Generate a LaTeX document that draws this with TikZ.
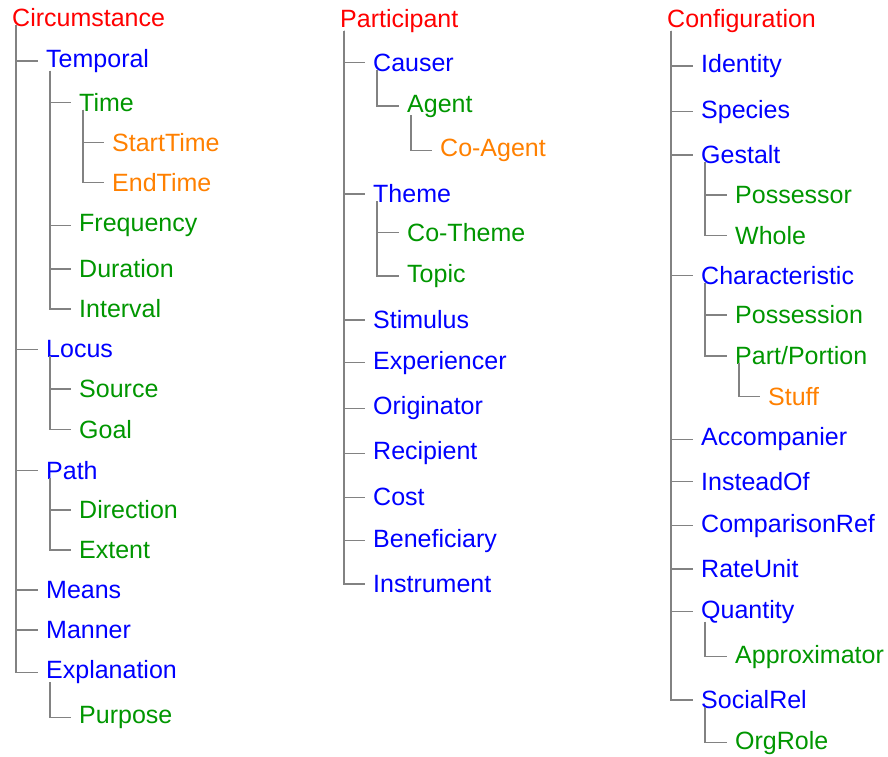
\documentclass[tikz,border=0pt]{standalone}
\usepackage{fontspec}
\setmainfont{Liberation Sans}
\usetikzlibrary{calc}

\definecolor{rootred}{RGB}{255,0,0}
\definecolor{roleblue}{RGB}{0,0,255}
\definecolor{subgreen}{RGB}{0,150,0}
\definecolor{leaforange}{RGB}{255,128,0}
\definecolor{treegray}{RGB}{130,130,130}

% connect a parent to its children: vertical line under the parent, ticks to each child
\newcommand{\treeedges}[2]{%
  \foreach \c in {#2}
    \draw[edge] ($(#1.south west)+(5,-3)$) |- ($(\c.west)+(-7,0)$);}

\begin{document}
\begin{tikzpicture}[x=1pt, y=-1pt,
    every node/.style={anchor=west, inner sep=1pt, font=\fontsize{25}{30}\selectfont},
    root/.style={text=rootred},
    role/.style={text=roleblue},
    sub/.style={text=subgreen},
    leaf/.style={text=leaforange},
    edge/.style={draw=treegray, line width=1.1pt}]
  \useasboundingbox (0,0) rectangle (888,756);

  % first column
  \node[root] (circumstance) at (11,18) {Circumstance};
  \node[role] (temporal) at (45,61) {Temporal};
  \node[sub] (time) at (78,102.3) {Time};
  \node[leaf] (starttime) at (111,142.7) {StartTime};
  \node[leaf] (endtime) at (111,182.7) {EndTime};
  \node[sub] (frequency) at (78,225.7) {Frequency};
  \node[sub] (duration) at (78,269) {Duration};
  \node[sub] (interval) at (78,309) {Interval};
  \node[role] (locus) at (45,349.3) {Locus};
  \node[sub] (source) at (78,389) {Source};
  \node[sub] (goal) at (78,429.3) {Goal};
  \node[role] (path) at (45,470.7) {Path};
  \node[sub] (direction) at (78,510) {Direction};
  \node[sub] (extent) at (78,550) {Extent};
  \node[role] (means) at (45,590) {Means};
  \node[role] (manner) at (45,630) {Manner};
  \node[role] (explanation) at (45,672.3) {Explanation};
  \node[sub] (purpose) at (78,717.3) {Purpose};

  \treeedges{circumstance}{temporal,locus,path,means,manner,explanation}
  \treeedges{temporal}{time,frequency,duration,interval}
  \treeedges{time}{starttime,endtime}
  \treeedges{locus}{source,goal}
  \treeedges{path}{direction,extent}
  \treeedges{explanation}{purpose}

  % second column
  \node[root] (participant) at (339,20.8) {Participant};
  \node[role] (causer) at (372,62.7) {Causer};
  \node[sub] (agent) at (406,106) {Agent};
  \node[leaf] (coagent) at (439,150.7) {Co-Agent};
  \node[role] (theme) at (372,194) {Theme};
  \node[sub] (cotheme) at (406,232.3) {Co-Theme};
  \node[sub] (topic) at (406,276) {Topic};
  \node[role] (stimulus) at (372,320) {Stimulus};
  \node[role] (experiencer) at (372,362.7) {Experiencer};
  \node[role] (originator) at (372,408.3) {Originator};
  \node[role] (recipient) at (372,453.3) {Recipient};
  \node[role] (cost) at (372,497.3) {Cost};
  \node[role] (beneficiary) at (372,540.7) {Beneficiary};
  \node[role] (instrument) at (372,584) {Instrument};

  \treeedges{participant}{causer,theme,stimulus,experiencer,originator,recipient,cost,beneficiary,instrument}
  \treeedges{causer}{agent}
  \treeedges{agent}{coagent}
  \treeedges{theme}{cotheme,topic}

  % third column
  \node[root] (configuration) at (666,21) {Configuration};
  \node[role] (identity) at (700,66) {Identity};
  \node[role] (species) at (700,111.7) {Species};
  \node[role] (gestalt) at (700,155) {Gestalt};
  \node[sub] (possessor) at (734,195) {Possessor};
  \node[sub] (whole) at (734,235.7) {Whole};
  \node[role] (characteristic) at (700,275.3) {Characteristic};
  \node[sub] (possession) at (734,315) {Possession};
  \node[sub] (partportion) at (734,356) {Part/Portion};
  \node[leaf] (stuff) at (767,396.7) {Stuff};
  \node[role] (accompanier) at (700,439.3) {Accompanier};
  \node[role] (insteadof) at (700,481.7) {InsteadOf};
  \node[role] (comparisonref) at (700,525.7) {ComparisonRef};
  \node[role] (rateunit) at (700,569) {RateUnit};
  \node[role] (quantity) at (700,611.7) {Quantity};
  \node[sub] (approximator) at (734,656.7) {Approximator};
  \node[role] (socialrel) at (700,700) {SocialRel};
  \node[sub] (orgrole) at (734,742.7) {OrgRole};

  \treeedges{configuration}{identity,species,gestalt,characteristic,accompanier,insteadof,comparisonref,rateunit,quantity,socialrel}
  \treeedges{gestalt}{possessor,whole}
  \treeedges{characteristic}{possession,partportion}
  \treeedges{partportion}{stuff}
  \treeedges{quantity}{approximator}
  \treeedges{socialrel}{orgrole}
\end{tikzpicture}
\end{document}
